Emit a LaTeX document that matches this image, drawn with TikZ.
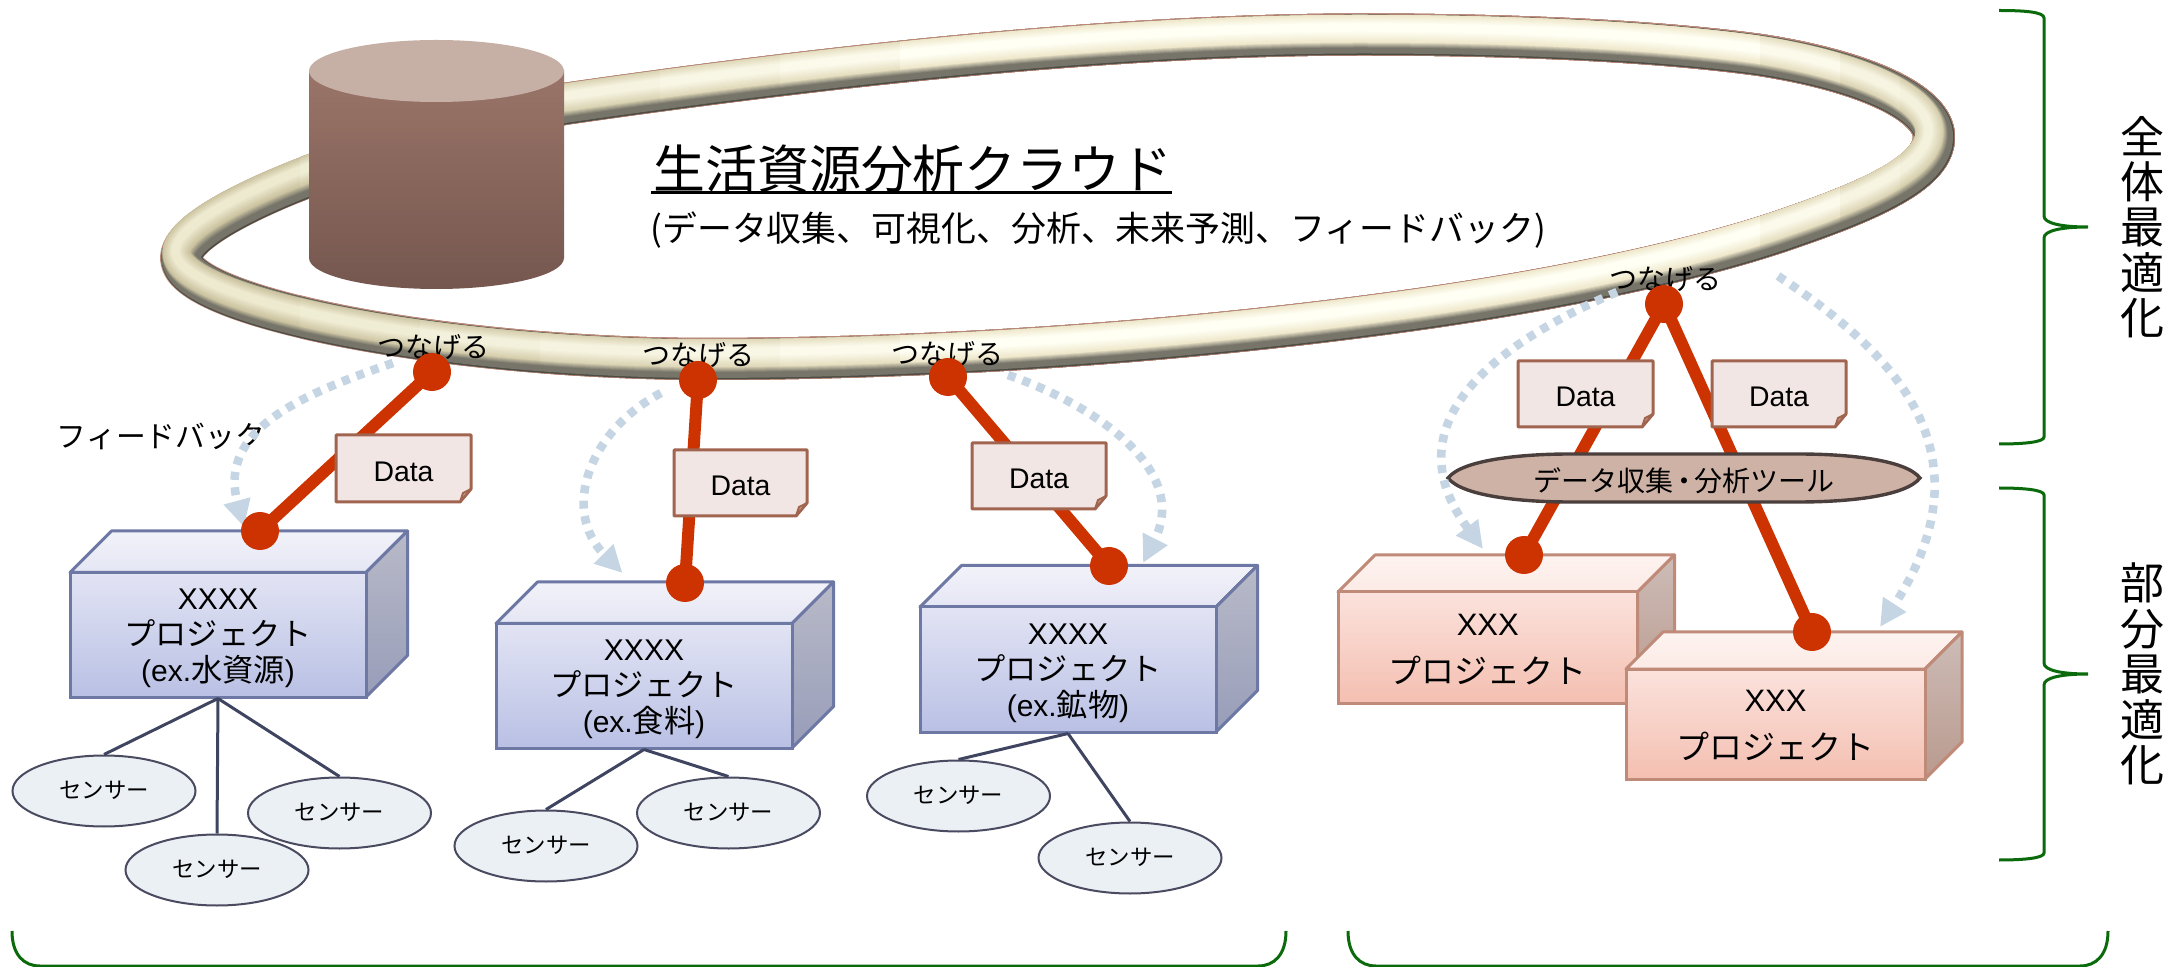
\documentclass[tikz,border=0pt]{standalone}
\usepackage{fontspec}
\setmainfont{Liberation Sans}
\newfontfamily\jp{Noto Sans CJK JP}
\usetikzlibrary{arrows.meta,shapes.geometric}
\pgfdeclarelayer{back}
\pgfsetlayers{back,main}
\definecolor{redc}{HTML}{CC3300}
\definecolor{feed}{HTML}{C5D5E3}
\definecolor{gbrace}{HTML}{0B6A0B}
\definecolor{tubedark}{HTML}{77756A}
\definecolor{midA}{HTML}{CBC3A0}
\definecolor{midB}{HTML}{EFE8CC}
\definecolor{lightA}{HTML}{EEEAD0}
\definecolor{lightB}{HTML}{FFFFF4}
\definecolor{tubepink}{HTML}{B98A7A}
\definecolor{bfa}{HTML}{E2E4F4}\definecolor{bfb}{HTML}{B9C0E4}
\definecolor{bta}{HTML}{F2F2F9}\definecolor{btb}{HTML}{E4E6F4}
\definecolor{bsa}{HTML}{B8BAC8}\definecolor{bsb}{HTML}{989DB9}
\definecolor{bln}{HTML}{6D78A4}
\definecolor{rfa}{HTML}{FBE2DC}\definecolor{rfb}{HTML}{F4BFB1}
\definecolor{rta}{HTML}{FDF3F0}\definecolor{rtb}{HTML}{FCEAE5}
\definecolor{rsa}{HTML}{CDBCB7}\definecolor{rsb}{HTML}{B99A8E}
\definecolor{rln}{HTML}{BF8A78}
\definecolor{sensorfill}{HTML}{EBF0F4}
\definecolor{sensorln}{HTML}{4A4A60}
\definecolor{sline}{HTML}{3F4560}
\definecolor{noteln}{HTML}{A0644F}
\definecolor{notefill}{HTML}{F2E6E4}
\definecolor{notefold}{HTML}{C49A8A}
\definecolor{cyla}{HTML}{9A7468}\definecolor{cylb}{HTML}{75574F}
\definecolor{cyltop}{HTML}{C6B0A6}
\definecolor{toolfill}{HTML}{CFB2A6}\definecolor{toolln}{HTML}{4A3F3C}
\tikzset{
  redline/.style={line width=6pt,draw=redc},
  ball/.style={circle,fill=redc,minimum size=19pt,inner sep=0pt},
  feedarrow/.style={draw=feed,line width=4.3pt,dash pattern=on 4pt off 3.7pt,
     -{Triangle[length=13.5pt,width=13pt,color=feed]}},
  sensorshape/.style={ellipse,draw=sensorln,fill=sensorfill,line width=1pt,
     minimum width=91.5pt,minimum height=35.5pt,inner sep=0pt,font=\jp\fontsize{11.2}{13}\selectfont},
  sensorline/.style={draw=sline,line width=1.5pt},
  connlabel/.style={font=\jp\fontsize{14}{16}\selectfont,inner sep=0pt},
  gb/.style={draw=gbrace,line width=1.5pt},
  bbox/.style={font=\fontsize{15}{18}\selectfont},
  rbox/.style={font=\fontsize{15.5}{24}\selectfont},
}
\newcommand{\bj}{\jp\fontsize{15.6}{18}\selectfont}
\newcommand{\rj}{\jp\fontsize{16.5}{24}\selectfont}
\newcommand{\ringpath}{(1934,137) .. controls (1934,105) and (1870,72) .. (1760,55)
  .. controls (1650,40) and (1500,34.5) .. (1363,34.5)
  .. controls (1100,34.5) and (800,70) .. (564,104)
  .. controls (380,140) and (181,215) .. (181,258)
  .. controls (181,305) and (430,357) .. (698,359)
  .. controls (950,359) and (1200,340) .. (1420,309)
  .. controls (1560,289) and (1700,260) .. (1793,227)
  .. controls (1880,197) and (1934,170) .. (1934,137) -- cycle}
\newcommand{\ringlayer}[3]{% top, bottom (px, y down, relative), colour
  \pgfmathsetmacro{\rw}{((#2)-(#1))*0.5}
  \pgfmathsetmacro{\rs}{((#1)+(#2))*0.25}
  \pgfmathsetmacro{\rx}{0.8*\rs}
  \pgfmathsetmacro{\ry}{-1*\rs}
  \draw[#3,line width=\rw pt,xshift=\rx pt,yshift=\ry pt,line join=round] \ringpath;
}
\newcommand{\projbox}[9]{% name x1 y1 x2 y2 depth prefix text textoffset
  \pgfmathsetmacro{\bw}{(#4-#2)*0.5}\pgfmathsetmacro{\bh}{(#5-#3)*0.5}
  \path[draw=#7ln,line width=1.5pt,line join=round,top color=#7ta,bottom color=#7tb]
    (#2,#3) -- ({#2+#6},{#3-#6}) -- ({#4+#6},{#3-#6}) -- (#4,#3) -- cycle;
  \path[draw=#7ln,line width=1.5pt,line join=round,top color=#7sa,bottom color=#7sb]
    (#4,#3) -- ({#4+#6},{#3-#6}) -- ({#4+#6},{#5-#6}) -- (#4,#5) -- cycle;
  \node[draw=#7ln,line width=1.5pt,top color=#7fa,bottom color=#7fb,inner sep=0pt,
    minimum width=\bw pt,minimum height=\bh pt]
    (#1) at ({(#2+#4)/2},{(#3+#5)/2}) {};
  \node[inner sep=0pt,align=center,#7box] (#1t) at ({(#2+#4)/2},{(#3+#5)/2+#9}) {#8};
}
\newcommand{\datanote}[5]{% name x1 y1 x2 y2
  \path[draw=noteln,fill=notefill,line width=1.5pt,line join=round]
    (#2,#3) -- (#4,#3) -- (#4,{#5-13}) -- ({#4-11},#5) -- (#2,#5) -- cycle;
  \path[draw=noteln,fill=notefold,line width=1pt,line join=round]
    (#4,{#5-13}) -- ({#4-11},#5) -- ({#4-8},{#5-9}) -- cycle;
  \node[font=\fontsize{14.2}{16}\selectfont,inner sep=0pt] (#1) at ({(#2+#4)/2},{(#3+#5)/2+3}) {Data};
}
\begin{document}
\begin{tikzpicture}[x=0.5pt,y=-0.5pt]
\useasboundingbox (0,0) rectangle (2179,967);
% connection balls (top-most)
\node[ball] (b1) at (432,372) {};
\node[ball] (b2) at (698,380) {};
\node[ball] (b3) at (948,377) {};
\node[ball] (b4) at (1664,304) {};
\node[ball] (e1) at (260,531) {};
\node[ball] (e2) at (685,583) {};
\node[ball] (e3) at (1109,566) {};
\node[ball] (e4) at (1524,555) {};
\node[ball] (e5) at (1812,632) {};
\begin{pgfonlayer}{back}
% ring: stacked strokes, palette changing stepwise along x
\foreach \xa/\f in {0/0,300/15,420/30,540/45,660/60,780/75,900/100,1760/75,1840/50,1900/35}{
  \begin{scope}
    \clip (\xa,-50) rectangle (2300,500);
    \colorlet{cmid}{midB!\f!midA}
    \colorlet{clight}{lightB!\f!lightA}
    \ringlayer{-21}{21}{tubepink}
    \ringlayer{-19.8}{20.5}{black!35!tubedark}
    \ringlayer{-19.5}{19}{tubedark}
    \ringlayer{-19.5}{17}{tubedark}
    \foreach \i in {0,...,6}{
      \pgfmathsetmacro{\bb}{14-1*\i}\pgfmathtruncatemacro{\p}{\i*100/6}
      \ringlayer{-19.5}{\bb}{cmid!\p!tubedark}
    }
    \foreach \i in {0,...,10}{
      \pgfmathsetmacro{\tt}{-19.5+0.85*\i}\pgfmathsetmacro{\bb}{8-1.1*\i}\pgfmathtruncatemacro{\p}{\i*10}
      \ringlayer{\tt}{\bb}{clight!\p!cmid}
    }
  \end{scope}
}
% cylinder
\path[top color=cyla,bottom color=cylb] (309,70) -- (309,258) .. controls (309,275) and (366,289) .. (436.5,289) .. controls (507,289) and (564,275) .. (564,258) -- (564,70) -- cycle;
\node[ellipse,fill=cyltop,minimum width=127.5pt,minimum height=31pt,inner sep=0pt] (cyl) at (436.5,71) {};
% title
\node[anchor=base west,inner sep=0pt,font=\jp\fontsize{25.95}{30}\selectfont] (title) at (653,189) {生活資源分析クラウド};
\draw[line width=1.5pt] (651,193) -- (1172,193);
\node[anchor=west,inner sep=0pt,font=\jp\fontsize{17.45}{20}\selectfont] (sub) at (650,230) {(データ収集、可視化、分析、未来予測、フィードバック)};
\node[anchor=center,inner sep=0pt,font=\jp\fontsize{14.9}{18}\selectfont] (fb) at (161,436) {フィードバック};
% boxes
\projbox{box1}{70}{572.5}{366}{697}{41.5}{b}{XXXX\\{\bj プロジェクト}\\(ex.{\bj 水資源})}{4}
\projbox{box2}{496}{623.5}{792}{748}{41.5}{b}{XXXX\\{\bj プロジェクト}\\(ex.{\bj 食料})}{4}
\projbox{box3}{920}{607}{1216}{732}{41.5}{b}{XXXX\\{\bj プロジェクト}\\(ex.{\bj 鉱物})}{4}
\projbox{box4}{1338}{592}{1637.5}{703}{37}{r}{XXX\\{\rj プロジェクト}}{2}
\projbox{box5}{1626}{669}{1925}{779}{37}{r}{XXX\\{\rj プロジェクト}}{2}
% sensors
\node[sensorshape] (s1) at (104,791) {\raisebox{1.2pt}{センサー}};
\node[sensorshape] (s2) at (217,870) {\raisebox{1.2pt}{センサー}};
\node[sensorshape] (s3) at (339.5,813) {\raisebox{1.2pt}{センサー}};
\node[sensorshape] (s4) at (546,846) {\raisebox{1.2pt}{センサー}};
\node[sensorshape] (s5) at (728.5,813) {\raisebox{1.2pt}{センサー}};
\node[sensorshape] (s6) at (958.5,796) {\raisebox{1.2pt}{センサー}};
\node[sensorshape] (s7) at (1130,858) {\raisebox{1.2pt}{センサー}};
\draw[sensorline] (box1.south) -- (s1.north);
\draw[sensorline] (box1.south) -- (s2.north);
\draw[sensorline] (box1.south) -- (s3.north);
\draw[sensorline] (box2.south) -- (s4.north);
\draw[sensorline] (box2.south) -- (s5.north);
\draw[sensorline] (box3.south) -- (s6.north);
\draw[sensorline] (box3.south) -- (s7.north);
% red connectors
\draw[redline] (b1.center) -- (e1.center);
\draw[redline] (b2.center) -- (e2.center);
\draw[redline] (b3.center) -- (e3.center);
\draw[redline] (b4.center) -- (e4.center);
\draw[redline] (b4.center) -- (e5.center);
% notes
\datanote{d1}{336}{435}{471}{502}
\datanote{d2}{674}{450}{807}{516}
\datanote{d3}{972}{443}{1106}{509}
\datanote{d4}{1518}{361}{1653}{427}
\datanote{d5}{1712}{361}{1846}{427}
% tool
\path[draw=toolln,fill=toolfill,line width=1.7pt]
  (1448,478) .. controls (1462,460) and (1520,454) .. (1570,454) -- (1798,454)
  .. controls (1850,454) and (1906,460) .. (1920,478)
  .. controls (1906,496) and (1850,502) .. (1798,502) -- (1570,502)
  .. controls (1520,502) and (1462,496) .. (1448,478) -- cycle;
\node[inner sep=0pt,font=\jp\fontsize{14}{18}\selectfont] (tool) at (1684,481) {データ収集\hspace{-1.7pt}・\hspace{-1.7pt}分析ツール};
% feedback arrows
\coordinate (a1s) at (393,363); \coordinate (a1t) at (244,527);
\coordinate (a2s) at (661,393); \coordinate (a2t) at (622.5,573);
\coordinate (a3s) at (1008,375); \coordinate (a3t) at (1143,563);
\coordinate (a4s) at (1617,292); \coordinate (a4t) at (1483,549);
\coordinate (a5s) at (1778,276); \coordinate (a5t) at (1880,627);
\draw[feedarrow] (a1s) .. controls (300,395) and (218,430) .. (a1t);
\draw[feedarrow] (a2s) .. controls (590,430) and (560,510) .. (a2t);
\draw[feedarrow] (a3s) .. controls (1095,405) and (1190,470) .. (a3t);
\draw[feedarrow] (a4s) .. controls (1480,350) and (1395,430) .. (a4t);
\draw[feedarrow] (a5s) .. controls (1890,350) and (1995,450) .. (a5t);
% labels
\node[connlabel] (l1) at (433,347) {つなげる};
\node[connlabel] (l2) at (698,355) {つなげる};
\node[connlabel] (l3) at (947,354) {つなげる};
\node[connlabel] (l4) at (1665,279) {つなげる};
% right braces
\draw[gb] (1999,10.5) .. controls (2025,10.5) and (2044,12) .. (2044,18) -- (2044,216) .. controls (2044,223) and (2060,227) .. (2088,227) .. controls (2060,227) and (2044,231) .. (2044,238) -- (2044,437) .. controls (2044,442) and (2025,444) .. (1999,444);
\draw[gb] (1999,488) .. controls (2025,488) and (2044,490) .. (2044,495) -- (2044,663) .. controls (2044,670) and (2060,674) .. (2088,674) .. controls (2060,674) and (2044,678) .. (2044,685) -- (2044,853) .. controls (2044,858) and (2025,860) .. (1999,860);
% bottom braces
\draw[gb] (12,931) .. controls (12,955) and (24,966) .. (40,966) -- (1258,966) .. controls (1274,966) and (1286,955) .. (1286,931);
\draw[gb] (1348,931) .. controls (1348,955) and (1360,966) .. (1376,966) -- (2080,966) .. controls (2096,966) and (2108,955) .. (2108,931);
% vertical labels
\node[align=center,inner sep=0pt,font=\jp\fontsize{22}{22.7}\selectfont] (v1) at (2142,227) {全\\体\\最\\適\\化};
\node[align=center,inner sep=0pt,font=\jp\fontsize{22}{22.7}\selectfont] (v2) at (2142,674) {部\\分\\最\\適\\化};
\end{pgfonlayer}
\end{tikzpicture}
\end{document}
